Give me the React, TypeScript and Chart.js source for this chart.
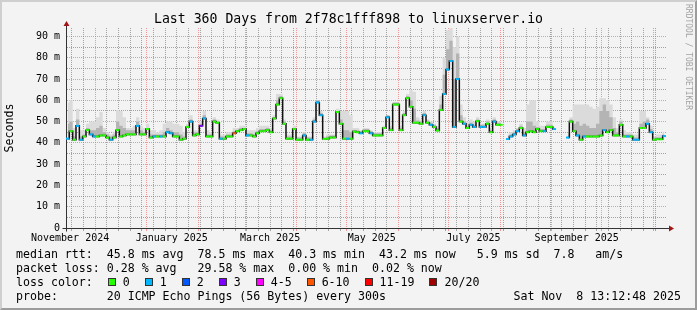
import { useEffect, useRef } from 'react';
import { Chart, registerables } from 'chart.js';

Chart.register(...registerables);

// ---------- data ----------
const TITLE = 'Last 360 Days from 2f78c1fff898 to linuxserver.io';
const SPAN_DAYS = 360; // graph start: 2024-11-13 13:12:48
const BIN_DAYS = 2;
const Y_MAX_MS = 94;

// median RTT per 2-day bin (ms); null = no data
const medianMs = [
  42, 45.5, 41.5, 48, 41.5, 43, 46, 44, 43, 43,
  43.5, 43.5, 42.5, 41.5, 42.5, 46, 43, 43.5, 44, 44,
  44, 48, 44, 44, 46.5, 42.5, 43, 43, 43, 43,
  45, 44.5, 43, 43, 41.5, 42, 47.5, 50, 43.5, 44,
  48, 51.5, 43, 43, 50, 49.5, 42, 42, 43, 43,
  44.5, 45.5, 46, 46.5, 43.5, 43.5, 43, 44.5, 45.5, 45.5,
  46, 45, 51.5, 58, 61, 49, 42, 42, 46.5, 41.5,
  41.5, 43.5, 41.5, 41.5, 50, 59, 53, 41.8, 42, 42.5,
  42.5, 54.5, 49, 42, 42, 42, 45.3, 45, 44.5, 45.5,
  45.5, 44.5, 43.5, 43.5, 43.5, 47, 52, 46, 58, 58,
  46, 53, 61, 57, 49.5, 49.5, 49, 53, 49.5, 48.5,
  47.5, 45.8, 55.5, 63, 74.5, 78.5, 47.5, 70, 50, 49,
  47, 48.5, 47.5, 50.2, 47.5, 47.5, 49, 45, 50, 48.5,
  48.5, null, 41.8, 43, 44, 45.5, 47, 43.5, 45, 45.5,
  45, 46.5, 45.5, 45.5, 47.5, 47.5, 46.5, null, null, null,
  42.5, 50, 45.5, 43.5, 41.5, 43, 43, 43, 43, 43,
  43.5, 46, 45, 46, 43.5, 43.5, 48.5, 43, 43, 43,
  41.5, 41.5, 47, 47, 49, 45, 41.5, 41.7, 41.7, 43.2,
];

// inner (darker) smoke upper edge per bin (ms)
const smokeMidMs = [
  49, 50, 43, 51, 43, 44, 47, 46, 46, 47,
  48, 45, 44, 43, 44, 50, 48, 47, 46, 46,
  46, 50, 46, 45, 47, 44, 44, 44, 44, 45,
  47, 46, 45, 45, 44, 43, 48, 51, 45, 45,
  49, 53, 44, 44, 51, 50, 43, 43, 44, 44,
  45.5, 46, 47, 47, 44.5, 44.5, 44, 45.5, 46.5, 46.5,
  47, 46, 52, 60, 62, 50, 43, 43, 47, 42.5,
  42.5, 44.5, 42.5, 42.5, 51, 60, 54, 42.5, 43, 43.5,
  43.5, 55, 51, 46, 46, 45, 46, 46, 45.5, 46.5,
  46.5, 45.5, 44.5, 44.5, 44.5, 47.5, 53, 47, 59, 59,
  47, 54, 62, 60, 56, 50.5, 50, 54, 50.5, 49.5,
  48.5, 47, 58, 72, 84, 88, 70, 82, 53, 50,
  48, 49.5, 48.5, 51, 48.5, 48.5, 50, 46, 51, 49.5,
  49.5, null, 42.5, 44, 45, 46.5, 48, 45, 50, 50,
  48, 47.5, 46.5, 46.5, 48.5, 48.5, 47.5, null, null, null,
  43.5, 51, 49, 50, 48, 49, 48, 47, 47, 49,
  55, 58, 55, 52, 47, 45, 50, 44, 44, 44,
  42.5, 42.5, 49, 50, 51, 46.5, 42.5, 42.7, 42.7, 44,
];

// outer (light) smoke upper edge per bin (ms)
const smokeHiMs = [
  59, 60, 47, 56, 46, 46, 49, 50, 50, 52,
  54.5, 47, 45, 44, 45, 55.5, 55, 52, 47, 47,
  48, 52, 48, 47, 49, 46, 46, 45, 46, 49,
  50, 50, 49, 49, 48, 45, 49, 53, 46, 46,
  50, 55, 46, 45, 52, 51, 44, 44, 45, 45,
  47, 47, 48, 48, 46, 46, 46, 47, 48, 48,
  48, 47, 53, 63, 63, 51, 44, 44, 48, 43,
  43, 45, 43, 43, 52, 60, 55, 43, 44, 44,
  44, 56, 55, 55, 55, 53, 47, 47, 46, 47,
  47, 46, 45, 45, 45, 48, 53, 48, 59, 59,
  48, 55, 63, 65, 64, 52, 51, 55, 51, 50,
  49, 48, 62, 80, 93, 94, 85, 90, 58, 52,
  50, 51, 50, 52, 49, 49, 51, 47, 52, 50,
  50, null, 44, 45, 46, 47, 49, 47, 58, 60,
  60, 50, 48, 48, 50, 50, 48, null, null, null,
  45, 52, 58, 58, 58, 58, 58, 57, 56, 57,
  61, 61, 60, 58, 52, 47, 51, 46, 45, 45,
  44, 44, 55, 55, 52, 48, 43, 44, 44, 45,
];

// loss bucket index per bin (index into lossLabels)
const lossBucket = [
  1, 0, 0, 1, 1, 0, 0, 1, 1, 0,
  0, 0, 0, 1, 0, 0, 0, 0, 0, 0,
  0, 1, 0, 0, 0, 0, 1, 0, 1, 0,
  1, 1, 0, 0, 0, 0, 0, 1, 0, 0,
  3, 1, 0, 0, 0, 0, 1, 0, 0, 0,
  5, 0, 0, 0, 1, 0, 0, 0, 0, 0,
  0, 0, 0, 0, 0, 0, 0, 0, 0, 0,
  0, 1, 0, 1, 1, 1, 1, 0, 0, 0,
  0, 0, 0, 0, 1, 0, 0, 0, 1, 0,
  0, 1, 0, 0, 0, 0, 1, 0, 0, 0,
  0, 0, 0, 0, 0, 0, 0, 1, 0, 1,
  0, 0, 0, 1, 1, 1, 1, 1, 0, 1,
  0, 1, 1, 0, 1, 1, 0, 0, 1, 0,
  0, 0, 1, 1, 1, 1, 0, 1, 0, 0,
  0, 0, 0, 1, 0, 0, 1, 0, 0, 0,
  1, 0, 0, 1, 0, 1, 0, 0, 0, 0,
  0, 1, 0, 0, 0, 0, 0, 0, 1, 0,
  1, 1, 0, 0, 1, 1, 0, 0, 0, 1,
];

const lossLabels = ['0', '1', '2', '3', '4-5', '6-10', '11-19', '20/20'];
const lossColors = ['#26ff00', '#00b8ff', '#0059ff', '#7e00ff', '#ff00ff', '#ff5500', '#ff0000', '#a10000'];

// x axis, in days since graph start
const monthStartDays = [17.45, 48.45, 79.45, 107.45, 138.45, 168.45, 199.45, 229.45, 260.45, 291.45, 321.45, 352.45];
const monthLabelDays = [2.45, 63.45, 122.45, 183.45, 244.45, 306.45];
const monthLabels = ['November 2024', 'January 2025', 'March 2025', 'May 2025', 'July 2025', 'September 2025'];
const firstSundayDay = 3.45;

// y axis
const yMajorTicks = [0, 10, 20, 30, 40, 50, 60, 70, 80, 90];
const yMinorTicks = [5, 15, 25, 35, 45, 55, 65, 75, 85];
const yTickLabels = ['0', '10 m', '20 m', '30 m', '40 m', '50 m', '60 m', '70 m', '80 m', '90 m'];

// legend text
const statsRtt = 'median rtt:  45.8 ms avg  78.5 ms max  40.3 ms min  43.2 ms now   5.9 ms sd  7.8   am/s';
const statsLoss = 'packet loss: 0.28 % avg   29.58 % max  0.00 % min  0.02 % now';
const lossTitle = 'loss color:  ';
const probeText = 'probe:       20 ICMP Echo Pings (56 Bytes) every 300s';
const stampText = 'Sat Nov  8 13:12:48 2025';
const creditText = 'RRDTOOL / TOBI OETIKER';

// ---------- layout / style ----------
const W = 697;
const H = 310;
const PLOT_LEFT = 66;
const PLOT_RIGHT = 666;
const PLOT_TOP = 28;
const PLOT_BOTTOM = 228;
const MONO = "'DejaVu Sans Mono', monospace";
const MAJOR_GRID = 'rgba(240, 90, 90, 0.6)';
const MINOR_GRID = 'rgba(110, 110, 110, 0.6)';
const AXIS = '#333333';
const ARROW = '#a01414';

const key = (v: number) => Math.round(v * 1000);

const axisArrows = {
  id: 'axisArrows',
  afterDraw(chart: any) {
    const { ctx, chartArea } = chart;
    const { left, right, top, bottom } = chartArea;
    const ax = Math.round(left) + 0.5;
    const ay = Math.round(bottom) + 0.5;
    ctx.save();
    ctx.strokeStyle = AXIS;
    ctx.lineWidth = 1;
    ctx.setLineDash([]);
    ctx.beginPath();
    ctx.moveTo(ax, top);
    ctx.lineTo(ax, top - 3);
    ctx.moveTo(right, ay);
    ctx.lineTo(right + 4, ay);
    ctx.moveTo(ax - 4, ay);
    ctx.lineTo(ax, ay);
    ctx.moveTo(ax, ay);
    ctx.lineTo(ax, ay + 3);
    ctx.stroke();
    ctx.fillStyle = ARROW;
    ctx.beginPath();
    ctx.moveTo(ax - 3, top - 2);
    ctx.lineTo(ax + 3, top - 2);
    ctx.lineTo(ax, top - 7);
    ctx.closePath();
    ctx.fill();
    ctx.beginPath();
    ctx.moveTo(right + 3, ay - 3);
    ctx.lineTo(right + 3, ay + 3);
    ctx.lineTo(right + 8, ay);
    ctx.closePath();
    ctx.fill();
    ctx.restore();
  },
};

export default function App() {
  const ref = useRef<HTMLCanvasElement>(null);

  useEffect(() => {
    const canvas = ref.current;
    if (!canvas) return;

    const toPoints = (arr: (number | null)[]) =>
      arr.map((v, i) => ({ x: i * BIN_DAYS + BIN_DAYS / 2, y: v }));

    // x ticks: weekly minor grid, monthly major grid, mid-month labels
    const xInfo = new Map<number, { value: number; grid: string | null; label: string }>();
    const addX = (v: number, grid: string | null, label: string) => {
      const k = key(v);
      const cur = xInfo.get(k) || { value: v, grid: null, label: '' };
      if (grid === 'major' || (grid === 'minor' && cur.grid !== 'major')) cur.grid = grid;
      if (label) cur.label = label;
      xInfo.set(k, cur);
    };
    for (let d = firstSundayDay; d < SPAN_DAYS; d += 7) addX(d, 'minor', '');
    monthStartDays.forEach((d) => addX(d, 'major', ''));
    monthLabelDays.forEach((d, i) => addX(d, null, monthLabels[i]));
    const xTicks = [...xInfo.values()].sort((a, b) => a.value - b.value);
    const xTickOf = (v: number) => xInfo.get(key(v));

    const yTicks = [...yMajorTicks, ...yMinorTicks].sort((a, b) => a - b);

    const chart = new Chart(canvas, {
      type: 'line',
      data: {
        datasets: [
          {
            label: 'median',
            data: toPoints(medianMs),
            stepped: 'middle',
            borderColor: '#111111',
            borderWidth: 1.5,
            fill: false,
            spanGaps: false,
            pointStyle: 'line',
            pointRadius: 1.7,
            pointHoverRadius: 1.7,
            pointBorderWidth: 2,
            pointBorderColor: (c: any) => lossColors[lossBucket[c.dataIndex]] || lossColors[0],
            pointBackgroundColor: (c: any) => lossColors[lossBucket[c.dataIndex]] || lossColors[0],
            order: 0,
          },
          {
            label: 'smoke inner',
            data: toPoints(smokeMidMs),
            stepped: 'middle',
            borderColor: 'rgba(0,0,0,0)',
            borderWidth: 0,
            pointRadius: 0,
            spanGaps: false,
            fill: { target: 0 },
            backgroundColor: '#b4b4b4',
            order: 1,
          },
          {
            label: 'smoke outer',
            data: toPoints(smokeHiMs),
            stepped: 'middle',
            borderColor: 'rgba(0,0,0,0)',
            borderWidth: 0,
            pointRadius: 0,
            spanGaps: false,
            fill: { target: 0 },
            backgroundColor: '#dbdbdb',
            order: 2,
          },
        ],
      },
      options: {
        animation: false,
        responsive: false,
        devicePixelRatio: 1,
        events: [],
        layout: { padding: { left: 0, right: W - PLOT_RIGHT, top: PLOT_TOP, bottom: 0 } },
        plugins: {
          legend: { display: false },
          tooltip: { enabled: false },
          title: { display: false },
        },
        scales: {
          x: {
            type: 'linear',
            min: 0,
            max: SPAN_DAYS,
            afterBuildTicks: (s: any) => {
              s.ticks = xTicks.map((t) => ({ value: t.value }));
            },
            afterFit: (s: any) => {
              s.height = H - PLOT_BOTTOM;
            },
            ticks: {
              autoSkip: false,
              maxRotation: 0,
              minRotation: 0,
              padding: 1,
              color: '#000',
              font: { family: MONO, size: 10 },
              callback: (v: any) => {
                const t = xTickOf(Number(v));
                return t ? t.label : '';
              },
            },
            grid: {
              drawTicks: true,
              tickLength: 3,
              lineWidth: 1,
              color: (c: any) => {
                const t = c.tick ? xTickOf(c.tick.value) : null;
                if (!t || !t.grid) return 'rgba(0,0,0,0)';
                return t.grid === 'major' ? MAJOR_GRID : MINOR_GRID;
              },
              tickColor: (c: any) => {
                const t = c.tick ? xTickOf(c.tick.value) : null;
                if (!t || !t.grid) return 'rgba(0,0,0,0)';
                return t.grid === 'major' ? MAJOR_GRID : MINOR_GRID;
              },
            },
            border: {
              display: true,
              color: AXIS,
              width: 1,
              dash: (c: any) => (c.tick ? [1, 1] : []),
            },
          },
          y: {
            type: 'linear',
            min: 0,
            max: Y_MAX_MS,
            afterBuildTicks: (s: any) => {
              s.ticks = yTicks.map((v) => ({ value: v }));
            },
            afterFit: (s: any) => {
              s.width = PLOT_LEFT;
            },
            ticks: {
              autoSkip: false,
              padding: 6,
              color: '#000',
              font: { family: MONO, size: 10 },
              callback: (v: any) => {
                const i = yMajorTicks.indexOf(Number(v));
                return i >= 0 ? yTickLabels[i] : '';
              },
            },
            grid: {
              drawTicks: false,
              lineWidth: 1,
              color: (c: any) => {
                if (!c.tick || c.tick.value === 0) return 'rgba(0,0,0,0)';
                return yMajorTicks.includes(c.tick.value) ? MAJOR_GRID : MINOR_GRID;
              },
            },
            border: {
              display: true,
              color: AXIS,
              width: 1,
              dash: (c: any) => (c.tick ? [1, 1] : []),
            },
            title: {
              display: true,
              text: 'Seconds',
              color: '#000',
              font: { family: MONO, size: 11.6, weight: 'normal' },
              padding: { top: 3, bottom: 0 },
            },
          },
        },
      },
      plugins: [axisArrows],
    } as any);

    return () => chart.destroy();
  }, []);

  const textStyle: any = {
    fontFamily: MONO,
    fontSize: '11.6px',
    lineHeight: '14px',
    whiteSpace: 'pre',
    color: '#000',
  };

  return (
    <div
      style={{
        position: 'fixed',
        left: 0,
        top: 0,
        width: W,
        height: H,
        background: '#f3f3f3',
        overflow: 'hidden',
      }}
    >
      <canvas ref={ref} width={W} height={H} style={{ position: 'absolute', left: 0, top: 0, width: W, height: H }} />
      <div
        style={{
          position: 'absolute',
          left: 0,
          width: W,
          top: 11,
          textAlign: 'center',
          fontFamily: MONO,
          fontSize: '13.2px',
          lineHeight: '16px',
          whiteSpace: 'pre',
          color: '#000',
        }}
      >
        {TITLE}
      </div>
      <div style={{ ...textStyle, position: 'absolute', left: 16, top: 247 }}>
        <div>{statsRtt}</div>
        <div>{statsLoss}</div>
        <div>
          {lossTitle}
          {lossLabels.map((lab, i) => (
            <span key={lab}>
              <span
                style={{
                  display: 'inline-block',
                  boxSizing: 'border-box',
                  width: 8,
                  height: 8,
                  marginLeft: 1,
                  marginRight: 7,
                  border: '1px solid #333',
                  background: lossColors[i],
                  verticalAlign: 'baseline',
                }}
              />
              {lab}
              <span style={{ display: 'inline-block', width: 14 }} />
            </span>
          ))}
        </div>
        <div>{probeText}</div>
      </div>
      <div style={{ ...textStyle, position: 'absolute', right: 16, top: 289 }}>{stampText}</div>
      <div
        style={{
          position: 'absolute',
          left: 683,
          top: 4,
          fontFamily: MONO,
          fontSize: '8px',
          lineHeight: '10px',
          writingMode: 'vertical-rl',
          whiteSpace: 'pre',
          color: '#a3a3a3',
        }}
      >
        {creditText}
      </div>
      <div
        style={{
          position: 'absolute',
          inset: 0,
          boxSizing: 'border-box',
          borderTop: '2px solid #cfcfcf',
          borderLeft: '2px solid #cfcfcf',
          borderRight: '2px solid #9c9c9c',
          borderBottom: '2px solid #9c9c9c',
          pointerEvents: 'none',
        }}
      />
    </div>
  );
}
